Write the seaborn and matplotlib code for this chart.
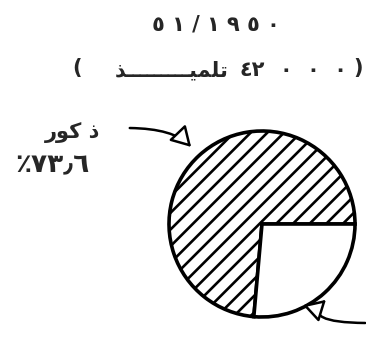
import matplotlib
matplotlib.use("Agg")
import matplotlib.pyplot as plt
import seaborn as sns

# ---- data ----
labels = ["ذكور", "إناث"]
shares = [73.6, 26.4]
hatches = ["//", ""]
title_year = "\u0665 \u0661 / \u0661 \u0669 \u0665 \u0660"     # ٥١/١٩٥٠ (visual order)
total_num_a = "\u0664\u0662"                                   # ٤٢
total_num_b = "\u0660  \u0660  \u0660"                         # ٠٠٠
total_word = "\uFEAC" + "\u0640" * 9 + "\uFEF4\uFEE4\uFEE0\uFE97"  # تلميذ (visual)
male_label = "\uFEAD\uFEEE\uFEDB \uFEAB"                       # ذكور (visual)
male_pct = "\u066A\u0667\u0663\u066B\u0666"                    # ٪٧٣٫٦ (visual)

sns.set_theme(style="white")
plt.rcParams["font.family"] = ["DejaVu Sans"]
plt.rcParams["hatch.linewidth"] = 1.9
plt.rcParams["hatch.color"] = "black"

W, H = 366, 339
fig = plt.figure(figsize=(W / 100, H / 100), dpi=100)
fig.patch.set_facecolor("white")

def fx(px):
    return px / W

def fy(py):
    return 1 - py / H

# pie axes
cx, cy, r = 262, 224, 93
lim = 1.04
side = 2 * r * lim
ax = fig.add_axes([fx(cx - side / 2), fy(cy + side / 2), side / W, side / H])
wedges, _ = ax.pie(shares, startangle=0, counterclock=True,
                   colors=["white", "white"],
                   wedgeprops=dict(edgecolor="black", linewidth=2.6))
for w, h in zip(wedges, hatches):
    w.set_hatch(h)
ax.set_xlim(-lim, lim)
ax.set_ylim(-lim, lim)
ax.set_aspect("equal")
ax.axis("off")

# titles
fs = 15
fig.text(fx(216), fy(25), title_year, ha="center", va="center",
         fontsize=fs, fontweight="bold")
fig.text(fx(77), fy(68), "(", ha="center", va="center", fontsize=fs, fontweight="bold")
fig.text(fx(228), fy(70), total_word, ha="right", va="center", fontsize=fs, fontweight="bold")
fig.text(fx(252), fy(70), total_num_a, ha="center", va="center", fontsize=fs, fontweight="bold")
fig.text(fx(313), fy(70), total_num_b, ha="center", va="center", fontsize=fs, fontweight="bold")
fig.text(fx(358), fy(68), ")", ha="center", va="center", fontsize=fs, fontweight="bold")

# male label
fig.text(fx(73), fy(133), male_label, ha="center", va="center", fontsize=15, fontweight="bold")
fig.text(fx(52), fy(165), male_pct, ha="center", va="center", fontsize=19, fontweight="bold")

# arrows
fig.add_artist(matplotlib.patches.FancyArrowPatch(
    (fx(127), fy(128)), (fx(193), fy(149)), transform=fig.transFigure,
    arrowstyle="-|>,head_length=6,head_width=3.5",
    connectionstyle="angle3,angleA=0,angleB=-50",
    mutation_scale=2, lw=1.8, ec="black", fc="white"))
fig.add_artist(matplotlib.patches.FancyArrowPatch(
    (fx(368), fy(323)), (fx(328), fy(298)), transform=fig.transFigure,
    arrowstyle="-|>,head_length=6,head_width=3.5",
    connectionstyle="angle3,angleA=0,angleB=40",
    mutation_scale=2, lw=1.8, ec="black", fc="white"))

fig.savefig("out.png", dpi=100, facecolor="white")
